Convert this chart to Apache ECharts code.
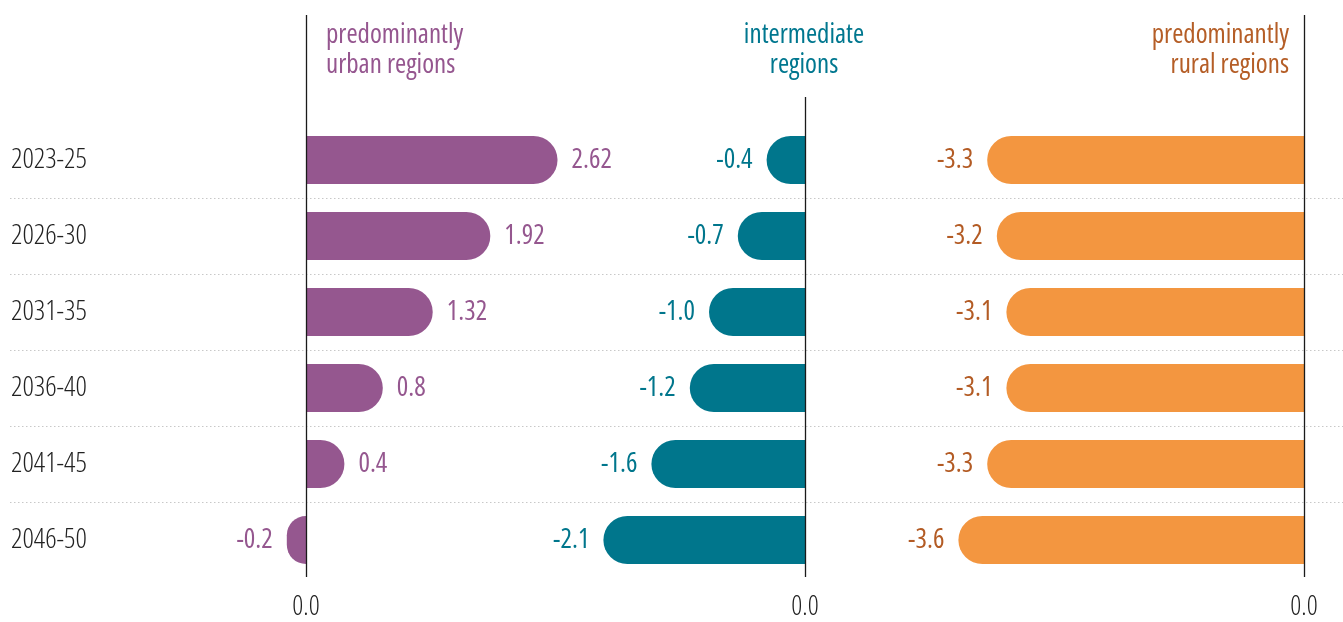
<!DOCTYPE html>
<html>
<head>
<meta charset="utf-8">
<script src="https://cdn.jsdelivr.net/npm/echarts@6/dist/echarts.min.js"></script>
<style>
html,body{margin:0;padding:0;background:#fff;}
#chart{width:1343px;height:622px;}
</style>
</head>
<body>
<div id="chart"></div>
<script>
const categories = ['2023-25', '2026-30', '2031-35', '2036-40', '2041-45', '2046-50'];
const urban = [2.62, 1.92, 1.32, 0.8, 0.4, -0.2];
const intermediate = [-0.4, -0.7, -1.0, -1.2, -1.6, -2.1];
const rural = [-3.3, -3.2, -3.1, -3.1, -3.3, -3.6];
const panelTitles = ['predominantly\nurban regions', 'intermediate\nregions', 'predominantly\nrural regions'];
const zeroTickLabel = '0.0';

const FONT = '"Open Sans", "Roboto Condensed", sans-serif';
const STRETCH = 'condensed';
const barColors = ['#95578f', '#00768c', '#f39640'];
const labelColors = ['#95578f', '#00768c', '#b35b24'];
const titleColors = ['#95568f', '#00778f', '#b55e27'];

const PX = 96; // pixels per unit
const TOP = 122, H = 456;
const ranges = [[-0.5, 3.0, 306], [-2.5, 0, 805], [-4, 0, 1304]];

const chart = echarts.init(document.getElementById('chart'), null, {renderer: 'canvas'});

const grids = [{left: 10, right: 0, top: TOP, height: H}];
const xAxes = [{gridIndex: 0, type: 'value', show: false, min: 0, max: 1}];
const yAxes = [{
  gridIndex: 0, type: 'category', data: categories, inverse: true,
  axisLine: {show: false}, axisTick: {show: false},
  axisLabel: {inside: true, margin: 1, align: 'left', fontFamily: FONT, fontStyle: STRETCH, fontWeight: 300, fontSize: 28, color: '#222'},
  splitLine: {show: true, showMinLine: false, showMaxLine: false, lineStyle: {type: [1.5, 2.5], color: '#c8c8c8', width: 1}}
}];

ranges.forEach((r, i) => {
  const [mn, mx, zeroX] = r;
  grids.push({left: zeroX + mn * PX, width: (mx - mn) * PX, top: TOP, height: H});
  xAxes.push({
    gridIndex: i + 1, type: 'value', min: mn, max: mx, interval: 0.5,
    axisLine: {show: false}, axisTick: {show: false}, splitLine: {show: false},
    axisLabel: {customValues: [0], formatter: v => (v === 0 ? zeroTickLabel : ''), margin: 16,
      fontFamily: FONT, fontStyle: STRETCH, fontWeight: 300, fontSize: 27, color: '#222'}
  });
  yAxes.push({gridIndex: i + 1, type: 'category', data: categories, inverse: true, show: false});
});

function makeData(values) {
  return values.map(v => ({
    value: v,
    itemStyle: {borderRadius: v >= 0 ? [0, 24, 24, 0] : [24, 0, 0, 24]},
    label: {position: v >= 0 ? 'right' : 'left'}
  }));
}

const seriesVals = [urban, intermediate, rural];
const series = seriesVals.map((vals, i) => ({
  type: 'bar', xAxisIndex: i + 1, yAxisIndex: i + 1,
  barWidth: 48,
  data: makeData(vals),
  itemStyle: {color: barColors[i]},
  label: {
    show: true, distance: 14, fontFamily: FONT, fontStyle: STRETCH, fontSize: 27, color: labelColors[i],
    formatter: p => (i === 0 ? String(p.value) : p.value.toFixed(1))
  },
  silent: true, animation: false
}));

const titles = [
  {text: panelTitles[0], left: 326, top: 20, textAlign: 'left'},
  {text: panelTitles[1], left: 804, top: 20, textAlign: 'center'},
  {text: panelTitles[2], left: 1289, top: 20, textAlign: 'right'}
].map((t, i) => Object.assign(t, {
  padding: 0,
  textStyle: {fontFamily: FONT, fontStyle: STRETCH, fontSize: 27, fontWeight: 'normal', color: titleColors[i], lineHeight: 30,
    align: i === 0 ? 'left' : (i === 1 ? 'center' : 'right')}
}));

chart.setOption({
  animation: false,
  title: titles,
  grid: grids, xAxis: xAxes, yAxis: yAxes, series: series
});

// vertical zero lines
const lineTops = [15, 97, 15];
const graphics = [0, 1, 2].map(i => {
  const x = Math.round(chart.convertToPixel({xAxisIndex: i + 1}, 0)) + 0.5;
  return {type: 'line', shape: {x1: x, y1: lineTops[i], x2: x, y2: 577},
    style: {stroke: '#1a1a1a', lineWidth: 1.3}, z: 100};
});
chart.setOption({graphic: graphics});
</script>
</body>
</html>
